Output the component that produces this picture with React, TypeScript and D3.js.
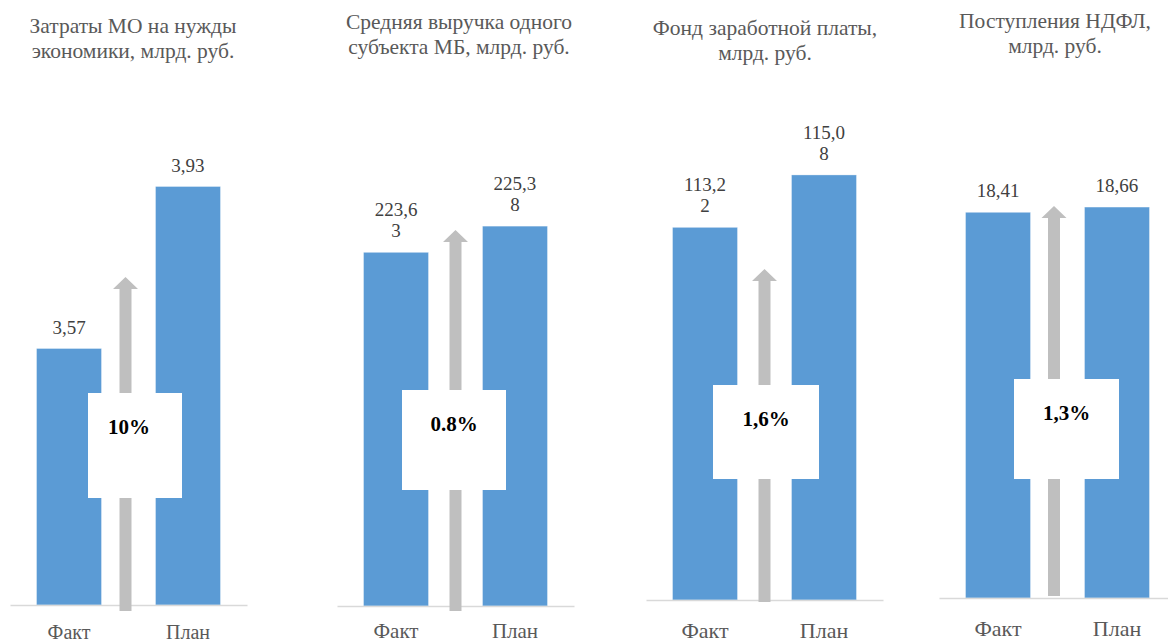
import React, { useEffect, useRef } from 'react'
import * as d3 from 'd3'

const categories = ['Факт', 'План']

const titles = [
  ['Затраты МО на нужды', 'экономики, млрд. руб.'],
  ['Средняя выручка одного', 'субъекта МБ, млрд. руб.'],
  ['Фонд заработной платы,', 'млрд. руб.'],
  ['Поступления НДФЛ,', 'млрд. руб.'],
]

const factValues = [3.57, 223.63, 113.22, 18.41]
const planValues = [3.93, 225.38, 115.08, 18.66]
const growthLabels = ['10%', '0.8%', '1,6%', '1,3%']

// value axis of each small chart (excel cut the first three off at a round number)
const yDomains: [number, number][] = [
  [3, 4],
  [200, 230],
  [100, 116],
  [0, 20],
]

// page layout of the four pasted charts
const panels = [
  { x: 10, axisY: 605, top: 155, titleX: 133, titleY: 33, catDy: 34, catFont: 20, arrowTop: 277, arrowBottom: 611, arrowDx: -3, box: [88, 393, 94, 105], textDx: -6 },
  { x: 337, axisY: 606, top: 157, titleX: 459, titleY: 29, catDy: 32, catFont: 21, arrowTop: 230, arrowBottom: 611, arrowDx: 0, box: [402, 390, 104, 100], textDx: 0 },
  { x: 646, axisY: 600, top: 149, titleX: 765, titleY: 35, catDy: 38, catFont: 22, arrowTop: 269, arrowBottom: 602, arrowDx: 0, box: [713, 385, 106, 94], textDx: 0 },
  { x: 939, axisY: 598, top: 179, titleX: 1055, titleY: 28, catDy: 38, catFont: 22, arrowTop: 206, arrowBottom: 596, arrowDx: -3.5, box: [1014, 379, 105, 100], textDx: 0 },
]

const width = 1168
const height = 643
const panelWidth = 237
const font = "'Liberation Serif', 'Times New Roman', Times, serif"

// "223,63" -> ["223,6", "3"] like the wrapped excel labels
const labelLines = (v: number) => {
  const s = v.toFixed(2).replace('.', ',')
  const out: string[] = []
  for (let i = 0; i < s.length; i += 5) out.push(s.slice(i, i + 5))
  return out
}

const App = () => {
  const svgRef = useRef<SVGSVGElement>(null)

  useEffect(() => {
    const svg = d3.select(svgRef.current)
    svg.selectAll('*').remove()

    panels.forEach((p, i) => {
      const g = svg.append('g')
      const values = [factValues[i], planValues[i]]

      const x = d3
        .scaleBand()
        .domain(categories)
        .range([p.x, p.x + panelWidth])
        .paddingInner(0.454)
        .paddingOuter(0.223)

      const y = d3.scaleLinear().domain(yDomains[i]).range([p.axisY, p.top])

      // title
      g.append('text')
        .attr('x', p.titleX)
        .attr('y', p.titleY)
        .attr('text-anchor', 'middle')
        .style('font-family', font)
        .style('font-size', '21.5px')
        .attr('fill', '#595959')
        .selectAll('tspan')
        .data(titles[i])
        .join('tspan')
        .attr('x', p.titleX)
        .attr('dy', (d, j) => (j === 0 ? 0 : 25))
        .text(d => d)

      // bars
      g.selectAll('rect.bar')
        .data(values)
        .join('rect')
        .attr('class', 'bar')
        .attr('x', (d, j) => x(categories[j]))
        .attr('y', d => y(d))
        .attr('width', x.bandwidth())
        .attr('height', d => p.axisY - y(d))
        .attr('fill', '#5b9bd5')
        .attr('stroke', '#ffffff')
        .attr('stroke-opacity', 0.4)
        .attr('stroke-width', 0.8)

      // value labels
      values.forEach((v, j) => {
        const lines = labelLines(v)
        const cx = x(categories[j]) + x.bandwidth() / 2
        g.append('text')
          .attr('text-anchor', 'middle')
          .style('font-family', font)
          .style('font-size', '19px')
          .attr('fill', '#404040')
          .selectAll('tspan')
          .data(lines)
          .join('tspan')
          .attr('x', cx)
          .attr('y', (d, k) => y(v) - 15 - (lines.length - 1 - k) * 21)
          .text(d => d)
      })

      // category axis
      const axis = d3
        .axisBottom(x)
        .tickSize(0)
        .tickSizeOuter(0)
        .tickPadding(p.catDy - 0.71 * p.catFont)

      const ax = g
        .append('g')
        .attr('transform', `translate(0, ${p.axisY})`)
        .call(axis)
      ax.attr('font-family', null)
      ax.select('.domain').attr('stroke', '#d9d9d9').attr('stroke-width', 1.5)
      ax.selectAll('text')
        .style('font-family', font)
        .style('font-size', p.catFont + 'px')
        .attr('fill', '#595959')

      // growth arrow between the bars
      const cx = (x(categories[0]) + x.bandwidth() + x(categories[1])) / 2 + p.arrowDx
      const shaft = 6
      const head = 12.5
      const headH = 12
      const arrow = d3.path()
      arrow.moveTo(cx, p.arrowTop)
      arrow.lineTo(cx + head, p.arrowTop + headH)
      arrow.lineTo(cx + shaft, p.arrowTop + headH)
      arrow.lineTo(cx + shaft, p.arrowBottom)
      arrow.lineTo(cx - shaft, p.arrowBottom)
      arrow.lineTo(cx - shaft, p.arrowTop + headH)
      arrow.lineTo(cx - head, p.arrowTop + headH)
      arrow.closePath()
      g.append('path').attr('d', arrow.toString()).attr('fill', '#bfbfbf')

      // percent box
      const [bx, by, bw, bh] = p.box
      g.append('rect')
        .attr('x', bx)
        .attr('y', by)
        .attr('width', bw)
        .attr('height', bh)
        .attr('fill', '#ffffff')
      g.append('text')
        .attr('x', bx + bw / 2 + p.textDx)
        .attr('y', by + 34)
        .attr('dominant-baseline', 'central')
        .attr('text-anchor', 'middle')
        .style('font-family', font)
        .style('font-size', '21px')
        .style('font-weight', 'bold')
        .attr('fill', '#000000')
        .text(growthLabels[i])
    })
  }, [])

  return (
    <svg
      ref={svgRef}
      width={width}
      height={height}
      style={{ position: 'absolute', left: 0, top: 0, background: '#fff' }}
    />
  )
}

export default App
